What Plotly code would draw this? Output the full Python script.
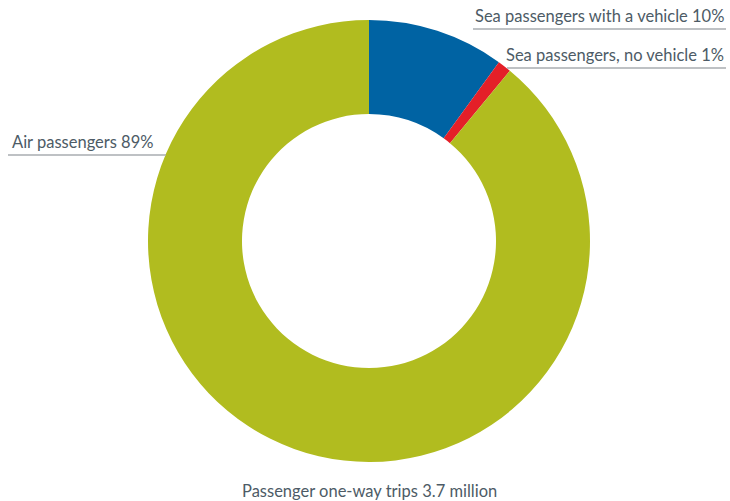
import plotly.graph_objects as go

W, H = 730, 501

categories = ["Sea passengers with a vehicle", "Sea passengers, no vehicle", "Air passengers"]
shares = [10, 1, 89]
label_texts = ["Sea passengers with a vehicle 10%", "Sea passengers, no vehicle 1%", "Air passengers 89%"]
title_text = "Passenger one-way trips 3.7 million"

colors = ["#0063a3", "#e41f28", "#b1bc1f"]
text_color = "#4d5b66"
line_color = "#a9adb0"
font_family = "Lato, 'Open Sans', sans-serif"

def px(x):
    return x / W

def py(y):
    return 1 - y / H

cx, cy, r_out, r_in = 369, 241, 221, 127

fig = go.Figure(go.Pie(
    labels=categories,
    values=shares,
    sort=False,
    direction="clockwise",
    rotation=0,
    hole=r_in / r_out,
    marker=dict(colors=colors, line=dict(width=0)),
    textinfo="none",
    hoverinfo="label+percent",
    showlegend=False,
    domain=dict(x=[px(cx - r_out), px(cx + r_out)], y=[py(cy + r_out), py(cy - r_out)]),
))

# label positions (pixels): (text x, text y, anchor, line x0, line x1, line y)
label_layout = [
    (726, 29, "right", 473, 726, 29),
    (726, 68, "right", 507, 726, 68),
    (10, 155, "left", 8, 166, 155),
]

shapes = []
annotations = []
for txt, (tx, ty, anc, lx0, lx1, ly) in zip(label_texts, label_layout):
    shapes.append(dict(type="line", xref="paper", yref="paper",
                       x0=px(lx0), x1=px(lx1), y0=py(ly), y1=py(ly),
                       line=dict(color=line_color, width=1.5)))
    annotations.append(dict(text=txt, xref="paper", yref="paper",
                            x=px(tx), y=py(ty - 1), xanchor=anc, yanchor="bottom",
                            showarrow=False,
                            font=dict(family=font_family, size=16.5, color=text_color)))

annotations.append(dict(text=title_text, xref="paper", yref="paper",
                        x=px(cx), y=py(491), xanchor="center", yanchor="middle",
                        showarrow=False,
                        font=dict(family=font_family, size=16.5, color=text_color)))

fig.update_layout(
    width=W, height=H,
    margin=dict(l=0, r=0, t=0, b=0),
    paper_bgcolor="white",
    plot_bgcolor="white",
    shapes=shapes,
    annotations=annotations,
)

fig.write_html("out.html")
